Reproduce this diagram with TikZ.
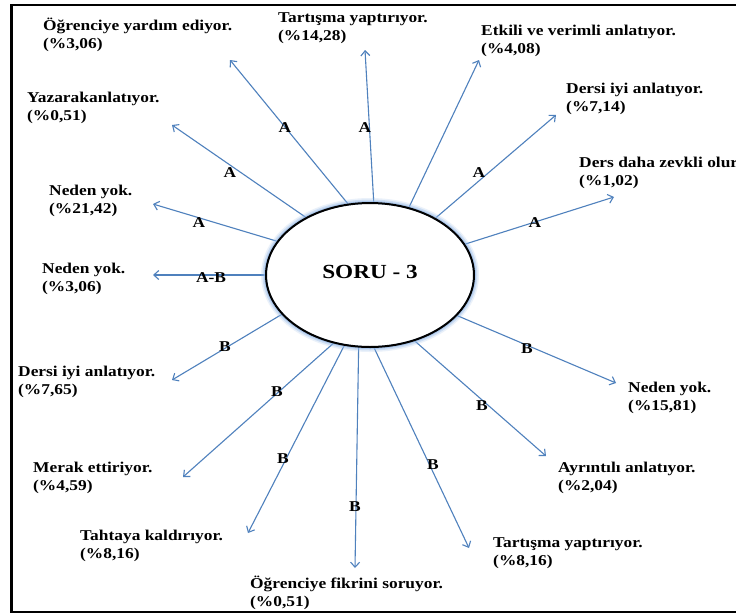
\documentclass[tikz,border=0pt]{standalone}
\usepackage{fontspec}
\setmainfont{Liberation Serif}[FakeStretch=1.16]
\usetikzlibrary{shapes.geometric,arrows.meta}
\definecolor{arr}{RGB}{79,129,189}
\definecolor{glowc}{RGB}{150,185,230}
\begin{document}
\begin{tikzpicture}[x=1pt,y=-1pt,
  lbl/.style={font=\fontsize{15}{18}\selectfont\bfseries, align=left, anchor=base west, inner sep=0pt},
  tag/.style={font=\fontsize{15}{18}\selectfont\bfseries, inner sep=0pt},
  arrowline/.style={draw=arr, line width=1.1pt, -{Straight Barb[length=5pt,width=9pt]}}]
\useasboundingbox (0,0) rectangle (736,614);
\fill[white] (0,0) rectangle (736,614);
\draw[line width=2.5pt] (740,5) -- (11.5,5) -- (11.5,612) -- (740,612);

% centre node
\node[ellipse, minimum width=208pt, minimum height=144pt, inner sep=0pt] (c) at (370,275) {};

% arrow tips
\coordinate (t1) at (230,60);
\coordinate (t2) at (365,50);
\coordinate (t3) at (479,60);
\coordinate (t4) at (556,115);
\coordinate (t5) at (614,197);
\coordinate (t6) at (172,125);
\coordinate (t7) at (153,204);
\coordinate (t8) at (153,275);
\coordinate (t9) at (172,380);
\coordinate (t10) at (183,477);
\coordinate (t11) at (248,533);
\coordinate (t12) at (355,568);
\coordinate (t13) at (469,548);
\coordinate (t14) at (546,456);
\coordinate (t15) at (616,383);

\draw[arrowline] (c.107.7) -- (t1);
\draw[arrowline] (c.87.6) -- (t2);
\draw[arrowline] (c.60.3) -- (t3);
\draw[arrowline] (c.41.8) -- (t4);
\draw[arrowline] (c.18.6) -- (t5);
\draw[arrowline] (c.138.3) -- (t6);
\draw[arrowline] (c.160.3) -- (t7);
\draw[arrowline] (c.180) -- (t8);
\draw[arrowline] (c.204) -- (t9);
\draw[arrowline] (c.242.2) -- (t10);
\draw[arrowline] (c.250.2) -- (t11);
\draw[arrowline] (c.261.1) -- (t12);
\draw[arrowline] (c.273.8) -- (t13);
\draw[arrowline] (c.304.6) -- (t14);
\draw[arrowline] (c.335.5) -- (t15);

% glowing ellipse
\draw[glowc, line width=10pt, opacity=0.2] (c.center) ellipse [x radius=104, y radius=72];
\draw[glowc, line width=7pt, opacity=0.35] (c.center) ellipse [x radius=104, y radius=72];
\draw[glowc, line width=4pt, opacity=0.6] (c.center) ellipse [x radius=104, y radius=72];
\fill[white] (c.center) ellipse [x radius=103, y radius=71];
\draw[line width=2pt] (c.center) ellipse [x radius=104, y radius=72];
\node[font=\fontsize{20}{24}\selectfont\bfseries, inner sep=0pt] (title) at (370,271.5) {SORU - 3};

% tags
\node[tag] (a1) at (285,128) {A};
\node[tag] (a2) at (365,128) {A};
\node[tag] (a3) at (230,173) {A};
\node[tag] (a4) at (199,223) {A};
\node[tag] (ab) at (211,278) {A-B};
\node[tag] (b1) at (225,347) {B};
\node[tag] (b2) at (277,392) {B};
\node[tag] (b3) at (283,459) {B};
\node[tag] (b4) at (355,507) {B};
\node[tag] (b5) at (433,465) {B};
\node[tag] (b6) at (482,406) {B};
\node[tag] (b7) at (527,349) {B};
\node[tag] (a5) at (479,173) {A};
\node[tag] (a6) at (535,223) {A};

% text labels (anchor = baseline of the second line)
\node[lbl] (l1) at (43,48) {Öğrenciye yardım ediyor.\\(\%3,06)};
\node[lbl] (l2) at (278,40) {Tartışma yaptırıyor.\\(\%14,28)};
\node[lbl] (l3) at (481,53) {Etkili ve verimli anlatıyor.\\(\%4,08)};
\node[lbl] (l4) at (566,111) {Dersi iyi anlatıyor.\\(\%7,14)};
\node[lbl] (l5) at (579,185) {Ders daha zevkli olur\\(\%1,02)};
\node[lbl] (l6) at (27,120) {Yazarakanlatıyor.\\(\%0,51)};
\node[lbl] (l7) at (49,213) {Neden yok.\\(\%21,42)};
\node[lbl] (l8) at (42,291) {Neden yok.\\(\%3,06)};
\node[lbl] (l9) at (18,394) {Dersi iyi anlatıyor.\\(\%7,65)};
\node[lbl] (l10) at (628,410) {Neden yok.\\(\%15,81)};
\node[lbl] (l11) at (558,490) {Ayrıntılı anlatıyor.\\(\%2,04)};
\node[lbl] (l12) at (493,565) {Tartışma yaptırıyor.\\(\%8,16)};
\node[lbl] (l13) at (33,490) {Merak ettiriyor.\\(\%4,59)};
\node[lbl] (l14) at (80,558) {Tahtaya kaldırıyor.\\(\%8,16)};
\node[lbl] (l15) at (250,606) {Öğrenciye fikrini soruyor.\\(\%0,51)};
\end{tikzpicture}
\end{document}
